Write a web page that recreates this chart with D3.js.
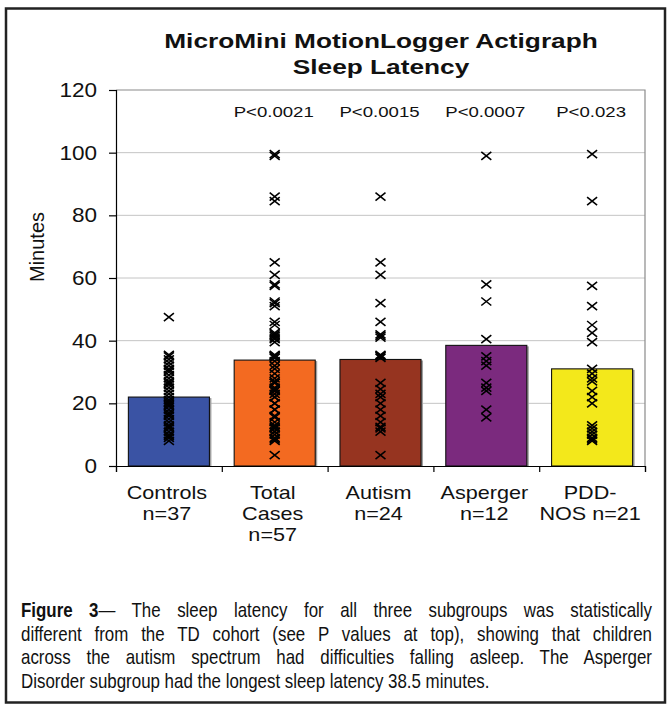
<!DOCTYPE html>
<html>
<head>
<meta charset="utf-8">
<script src="https://cdn.jsdelivr.net/npm/d3@7"></script>
<style>
  body { margin: 0; background: #fff; }
  svg { display: block; }
  text { font-family: "Liberation Sans", Arial, sans-serif; fill: #111; }
</style>
</head>
<body>
<svg id="chart" width="670" height="711"></svg>
<script>
// categories and labels
const categories = ["Controls", "Total Cases", "Autism", "Asperger", "PDD-NOS"];
const categoryLines = [["Controls", "n=37"], ["Total", "Cases", "n=57"], ["Autism", "n=24"], ["Asperger", "n=12"], ["PDD-", "NOS n=21"]];
const meanMinutes = [22, 33.8, 34, 38.5, 31];
const pLabels = ["", "P<0.0021", "P<0.0015", "P<0.0007", "P<0.023"];
const barColors = ["#3a53a4", "#f36a21", "#963420", "#7b2a7e", "#f3e81b"];
const yTicks = [0, 20, 40, 60, 80, 100, 120];

// individual sleep latencies (minutes)
const controls = [47.5, 35.5, 35, 34, 33, 32, 31, 30.5, 30, 29, 28, 27, 26.5, 26, 25, 24, 23, 22, 21, 20.5,
  20, 19.5, 19, 18, 17, 16.5, 16, 15, 14, 13, 12.5, 12, 11, 10, 9.5, 9, 8];
const autism = [86, 65, 61, 52, 46, 42, 41.5, 41, 35.5, 35.2, 35, 34.5, 26.5, 24.5, 23, 22, 20, 18, 16, 14,
  12.5, 12, 11, 3.5];
const asperger = [99, 58, 52.5, 40.5, 35, 33.5, 32, 26.5, 25, 24, 18, 15.5];
const pddNos = [99.5, 84.5, 57.5, 51, 45, 42.5, 39.5, 31, 29.5, 28, 27, 24, 22, 20, 13, 12, 11, 10, 9, 8.5, 8];
const totalCases = autism.concat(asperger, pddNos);
const groups = [controls, totalCases, autism, asperger, pddNos];

const captionLines = [
  "The sleep latency for all three subgroups was statistically",
  "different from the TD cohort (see P values at top), showing that children",
  "across the autism spectrum had difficulties falling asleep. The Asperger",
  "Disorder subgroup had the longest sleep latency 38.5 minutes."
];

const svg = d3.select("#chart");
const sx = 1.2; // the chart text is drawn a bit wide

// outer frame
svg.append("rect")
  .attr("x", 6).attr("y", 8.5).attr("width", 659).attr("height", 694)
  .attr("fill", "none").attr("stroke", "#222").attr("stroke-width", 2.5);

const plot = { left: 116, right: 645, top: 90, bottom: 466 };

const x = d3.scaleBand().domain(categories)
  .range([plot.left, plot.right]).paddingInner(0.234).paddingOuter(0.117);
const y = d3.scaleLinear().domain([0, 120]).range([plot.bottom, plot.top]);

// gridlines
svg.append("g").selectAll("line")
  .data(yTicks.filter(d => d > 0 && d < 120))
  .join("line")
  .attr("x1", plot.left).attr("x2", plot.right)
  .attr("y1", d => y(d)).attr("y2", d => y(d))
  .attr("stroke", "#c4c4c4").attr("stroke-width", 1);

// plot border top/right
svg.append("path")
  .attr("d", `M${plot.left},${y(120)}H${plot.right}V${plot.bottom}`)
  .attr("fill", "none").attr("stroke", "#8a8a8a").attr("stroke-width", 1.2);

// bars (with a light shadow on the right)
svg.append("g").selectAll("rect")
  .data(categories)
  .join("rect")
  .attr("x", d => x(d) + 2)
  .attr("y", (d, i) => y(meanMinutes[i]) + 1)
  .attr("width", x.bandwidth())
  .attr("height", (d, i) => y(0) - y(meanMinutes[i]) - 1)
  .attr("fill", "#a0a0a0");

svg.append("g").selectAll("rect")
  .data(categories)
  .join("rect")
  .attr("x", d => x(d))
  .attr("y", (d, i) => y(meanMinutes[i]))
  .attr("width", x.bandwidth())
  .attr("height", (d, i) => y(0) - y(meanMinutes[i]))
  .attr("fill", (d, i) => barColors[i])
  .attr("stroke", "#111").attr("stroke-width", 1.1);

// individual points as x marks
const hw = 5, hh = 4;
const pts = [];
groups.forEach((g, i) => g.forEach(v => pts.push({ cat: categories[i], v })));
svg.append("g").selectAll("path")
  .data(pts)
  .join("path")
  .attr("d", d => {
    const cx = x(d.cat) + x.bandwidth() / 2, cy = y(d.v);
    return `M${cx - hw},${cy - hh}L${cx + hw},${cy + hh}M${cx - hw},${cy + hh}L${cx + hw},${cy - hh}`;
  })
  .attr("stroke", "#000").attr("stroke-width", 1.6).attr("fill", "none");

// y axis
const yAxis = svg.append("g")
  .attr("transform", `translate(${plot.left},0)`)
  .call(d3.axisLeft(y).tickValues(yTicks).tickSize(7).tickPadding(12));
yAxis.select(".domain").attr("stroke", "#000").attr("stroke-width", 1.2);
yAxis.selectAll(".tick line").attr("stroke", "#000").attr("stroke-width", 1.2);
yAxis.selectAll(".tick text")
  .attr("font-size", 20.5).attr("font-family", "Liberation Sans, Arial, sans-serif")
  .attr("fill", "#111")
  .attr("x", -19 / 1.1).attr("transform", "scale(1.1,1)");

// x axis with ticks between categories
const xEdges = d3.scaleLinear().domain([0, categories.length]).range([plot.left, plot.right]);
const xAxis = svg.append("g")
  .attr("transform", `translate(0,${plot.bottom})`)
  .call(d3.axisBottom(xEdges).tickValues(d3.range(categories.length + 1)).tickSize(6).tickFormat(""));
xAxis.select(".domain").attr("stroke", "#000").attr("stroke-width", 1.2);
xAxis.selectAll(".tick line").attr("stroke", "#000").attr("stroke-width", 1.2);

// category labels
categories.forEach((c, i) => {
  const cx = x(c) + x.bandwidth() / 2 - 2;
  categoryLines[i].forEach((line, j) => {
    svg.append("text")
      .attr("transform", `translate(${cx},${499 + j * 21}) scale(${sx},1)`)
      .attr("text-anchor", "middle").attr("font-size", 18)
      .text(line);
  });
});

// p-values
categories.forEach((c, i) => {
  if (!pLabels[i]) return;
  svg.append("text")
    .attr("transform", `translate(${x(c) + x.bandwidth() / 2 - 1},117) scale(${sx},1)`)
    .attr("text-anchor", "middle").attr("font-size", 15.5)
    .text(pLabels[i]);
});

// axis title
svg.append("text")
  .attr("transform", "translate(44,247) rotate(-90)")
  .attr("text-anchor", "middle").attr("font-size", 20)
  .text("Minutes");

// chart title
[["MicroMini MotionLogger Actigraph", 48], ["Sleep Latency", 74]].forEach(([t, yy]) => {
  svg.append("text")
    .attr("transform", `translate(381,${yy}) scale(1.25,1)`)
    .attr("text-anchor", "middle").attr("font-size", 21).attr("font-weight", "bold")
    .text(t);
});

// caption, justified like the printed figure
const capLeft = 21, capRight = 652, capScale = 0.845;
captionLines.forEach((line, i) => {
  const t = svg.append("text")
    .attr("transform", `translate(${capLeft},${617 + i * 23.6}) scale(${capScale},1)`)
    .attr("font-size", 20);
  if (i === 0) {
    t.append("tspan").attr("font-weight", "bold").text("Figure 3");
    t.append("tspan").text("\u2014 " + line);
  } else {
    t.text(line);
  }
  if (i < captionLines.length - 1) {
    const full = (i === 0 ? "Figure 3\u2014 " : "") + line;
    const gaps = full.split(" ").length - 1;
    const w = t.node().getComputedTextLength();
    const target = (capRight - capLeft) / capScale;
    t.attr("word-spacing", (target - w) / gaps);
  }
});
</script>
</body>
</html>
